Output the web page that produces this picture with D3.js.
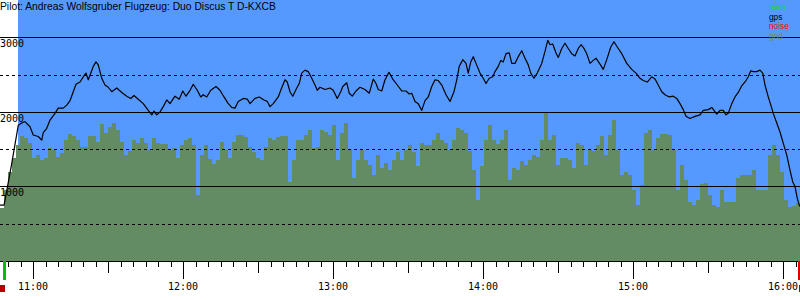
<!DOCTYPE html>
<html>
<head>
<meta charset="utf-8">
<script src="https://cdn.jsdelivr.net/npm/d3@7"></script>
<style>
  body { margin: 0; background: #fff; }
  svg { display: block; }
</style>
</head>
<body>
<div id="chart"></div>
<script>
var title = 'Pilot: Andreas Wolfsgruber Flugzeug: Duo Discus T D-KXCB';
var legendNames = ['baro', 'gps', 'noise', 'gnd'];

var viewStart = '10:46:48';
var viewEnd = '16:06:48';
var flightStart = '10:54:00';
var takeoff = '10:48:30';
var landing = '16:06:24';
var noiseMarks = ['10:46:48', '16:06:24'];

var altTicks = [500, 1000, 1500, 2000, 2500, 3000];

// gps altitude [time, m]
var gpsTrack = [
  ['10:46:48',750],['10:48:24',750],['10:48:36',780],['10:51:24',1290],['10:54:06',1820],
  ['10:55:30',1850],['10:56:48',1870],['10:58:48',1800],['11:00:06',1690],['11:02:06',1670],
  ['11:03:30',1620],['11:04:06',1720],['11:05:30',1780],['11:06:48',1890],['11:08:48',1980],
  ['11:10:06',2050],['11:12:06',2050],['11:13:30',2090],['11:14:48',2150],['11:16:06',2270],
  ['11:17:12',2370],['11:18:48',2400],['11:20:06',2470],['11:21:12',2520],['11:22:06',2430],
  ['11:22:48',2490],['11:24:06',2610],['11:25:12',2670],['11:26:06',2630],['11:27:30',2450],
  ['11:28:48',2360],['11:30:06',2330],['11:31:30',2270],['11:33:30',2320],['11:35:30',2260],
  ['11:37:30',2210],['11:39:06',2180],['11:40:24',2220],['11:42:06',2170],['11:44:06',2110],
  ['11:46:06',2020],['11:47:30',1960],['11:48:24',2010],['11:49:30',1960],['11:50:48',2000],
  ['11:52:06',2070],['11:53:30',2160],['11:54:48',2110],['11:56:48',2210],['11:58:30',2170],
  ['11:59:54',2280],['12:01:12',2210],['12:02:30',2270],['12:04:06',2370],['12:05:42',2290],
  ['12:07:06',2200],['12:08:06',2230],['12:09:30',2200],['12:11:06',2290],['12:13:12',2340],
  ['12:14:48',2290],['12:16:24',2200],['12:18:06',2110],['12:19:30',2060],['12:20:48',2050],
  ['12:22:06',2140],['12:24:06',2180],['12:25:42',2170],['12:26:48',2110],['12:28:48',2180],
  ['12:30:30',2200],['12:32:24',2160],['12:33:42',2140],['12:34:48',2070],['12:36:06',2110],
  ['12:38:06',2200],['12:39:06',2290],['12:40:48',2430],['12:41:42',2400],['12:42:48',2270],
  ['12:43:54',2210],['12:45:30',2320],['12:46:30',2380],['12:47:30',2520],['12:48:48',2560],
  ['12:50:06',2540],['12:51:30',2450],['12:52:48',2360],['12:53:42',2290],['12:54:48',2330],
  ['12:56:48',2300],['12:58:48',2320],['13:00:06',2290],['13:01:42',2180],['13:03:06',2270],
  ['13:03:54',2340],['13:05:30',2390],['13:06:30',2250],['13:07:42',2210],['13:09:12',2280],
  ['13:10:48',2330],['13:12:48',2300],['13:14:30',2250],['13:16:06',2440],['13:17:12',2380],
  ['13:18:06',2300],['13:19:30',2280],['13:20:48',2430],['13:22:24',2530],['13:23:54',2440],
  ['13:25:42',2360],['13:27:30',2280],['13:29:12',2280],['13:30:30',2240],['13:31:30',2250],
  ['13:32:48',2140],['13:34:06',2110],['13:35:30',2020],['13:36:48',2150],['13:38:06',2200],
  ['13:39:30',2340],['13:40:48',2430],['13:42:06',2420],['13:43:30',2360],['13:45:12',2230],
  ['13:46:48',2140],['13:48:24',2270],['13:49:30',2430],['13:50:30',2610],['13:51:54',2700],
  ['13:53:12',2650],['13:54:06',2520],['13:55:06',2670],['13:56:06',2740],['13:57:12',2650],
  ['13:58:48',2520],['14:00:06',2450],['14:01:12',2380],['14:02:30',2450],['14:03:54',2470],
  ['14:04:48',2540],['14:06:06',2610],['14:07:06',2690],['14:08:06',2670],['14:09:12',2780],
  ['14:10:30',2790],['14:11:30',2650],['14:12:48',2650],['14:14:06',2740],['14:15:30',2820],
  ['14:16:48',2720],['14:18:06',2630],['14:19:06',2520],['14:20:24',2450],['14:21:42',2520],
  ['14:23:30',2650],['14:24:48',2810],['14:25:54',2960],['14:26:48',2900],['14:27:54',2910],
  ['14:29:12',2790],['14:30:06',2730],['14:31:30',2850],['14:32:48',2920],['14:34:06',2850],
  ['14:35:30',2780],['14:36:48',2750],['14:38:06',2850],['14:39:12',2900],['14:40:24',2850],
  ['14:41:30',2780],['14:42:48',2650],['14:44:06',2690],['14:45:12',2720],['14:46:48',2640],
  ['14:48:06',2570],['14:49:30',2700],['14:51:06',2870],['14:52:24',2940],['14:53:42',2870],
  ['14:55:30',2780],['14:57:30',2650],['14:59:30',2570],['15:01:12',2520],['15:02:48',2450],
  ['15:04:06',2420],['15:05:42',2400],['15:07:30',2470],['15:08:48',2440],['15:10:06',2360],
  ['15:11:30',2270],['15:12:48',2230],['15:14:30',2200],['15:16:06',2210],['15:17:30',2180],
  ['15:18:48',2110],['15:20:06',2030],['15:21:12',1940],['15:22:48',1910],['15:24:48',1940],
  ['15:26:48',1960],['15:28:06',2020],['15:30:06',2030],['15:31:30',2060],['15:32:24',2020],
  ['15:33:30',1970],['15:34:48',2020],['15:36:06',2020],['15:37:12',1960],['15:38:06',1980],
  ['15:39:30',2110],['15:40:48',2200],['15:42:06',2260],['15:43:30',2350],['15:45:12',2420],
  ['15:46:06',2470],['15:47:06',2550],['15:48:06',2540],['15:49:30',2540],['15:50:48',2560],
  ['15:51:54',2520],['15:52:48',2360],['15:54:06',2200],['15:55:30',2050],['15:56:06',1980],
  ['15:57:30',1850],['15:58:48',1730],['16:00:06',1580],['16:01:30',1420],['16:02:48',1220],
  ['16:03:54',1060],['16:04:48',1000],['16:05:42',840],['16:06:30',750],['16:06:48',730]
];

// ground elevation, one value every gndStep seconds from gndStart
var gndStart = '10:46:48';
var gndStep = 96;
var gndAlt = [
  710,950,1190,1380,1560,1680,1650,1580,1380,1420,1350,1380,1520,1490,1390,1450,1620,1700,1670,1620,
  1530,1530,1670,1670,1600,1840,1720,1800,1850,1760,1600,1420,1480,1620,1580,1650,1580,1490,1650,1580,
  1570,1570,1490,1520,1380,1560,1620,1650,1560,890,1420,1560,1370,1300,1350,1600,1490,1380,1600,1690,
  1690,1660,1530,1460,1380,1350,1530,1650,1620,1660,1680,1680,1060,1350,1620,1620,1690,1760,1520,1530,
  1760,1730,1690,1820,1350,1720,1850,1490,1110,1350,1490,1350,1290,1150,1420,1250,1310,1220,1350,1460,
  1350,1490,1560,1460,1270,1580,1560,1560,1620,1720,1620,1580,1490,1620,1790,1760,1720,1480,1220,820,
  1270,1620,1820,1620,1570,1620,1760,1090,1250,1220,1340,1290,1350,1420,1400,1620,2000,1620,1690,1290,
  1380,1380,1350,1250,1580,1560,1290,1490,1470,1560,1680,1420,1690,1890,1490,1150,1190,1150,950,750,
  1020,1720,1760,1490,1650,1700,1700,1690,1490,950,1290,1090,790,750,820,1030,1050,890,750,720,
  950,790,790,790,1110,1150,1150,1150,1220,950,950,950,1420,1560,1420,1190,820,720,740,780
];

var colors = {
  baro: '#11dd11',
  gps: '#000000',
  noise: '#ff0000',
  gnd: '#6b8f62',
  sky: '#5599ff',
  ground: '#638c63'
};

var w = 800, h = 300, base = 261;
var parseTime = d3.utcParse('%H:%M:%S');

var svg = d3.select('#chart').append('svg')
  .attr('width', w)
  .attr('height', h);

var x = d3.scaleUtc()
  .domain([parseTime(viewStart), parseTime(viewEnd)])
  .range([0, w]);

var y = d3.scaleLinear()
  .domain([0, 3500])
  .range([base, 0]);

svg.append('rect')
  .attr('width', w).attr('height', h)
  .attr('fill', '#fff');

// flight background
svg.append('rect')
  .attr('x', x(parseTime(flightStart)))
  .attr('y', 0)
  .attr('width', w - x(parseTime(flightStart)))
  .attr('height', base)
  .attr('fill', colors.sky);

// ground profile
var t0 = parseTime(gndStart).getTime();
var gnd = gndAlt.map(function(a, i) {
  return { t: new Date(t0 + i * gndStep * 1000), a: a };
});
gnd.push({ t: new Date(t0 + gndAlt.length * gndStep * 1000), a: gndAlt[gndAlt.length - 1] });

svg.append('path')
  .datum(gnd)
  .attr('fill', colors.ground)
  .attr('shape-rendering', 'crispEdges')
  .attr('d', d3.area()
    .curve(d3.curveStepAfter)
    .x(function(d) { return x(d.t); })
    .y0(y(0))
    .y1(function(d) { return y(d.a); }));

// altitude grid
svg.selectAll('.grid')
  .data(altTicks)
  .enter().append('line')
  .attr('class', 'grid')
  .attr('x1', 0).attr('x2', w)
  .attr('y1', function(d) { return Math.round(y(d)) + 0.5; })
  .attr('y2', function(d) { return Math.round(y(d)) + 0.5; })
  .attr('stroke', '#000')
  .attr('stroke-width', 1)
  .attr('stroke-dasharray', function(d) { return d % 1000 ? '3,3' : null; });

svg.selectAll('.alt-label')
  .data(altTicks.filter(function(d) { return d % 1000 === 0; }))
  .enter().append('text')
  .attr('class', 'alt-label')
  .attr('x', 0)
  .attr('y', function(d) { return Math.round(y(d)) + 10; })
  .style('font', '10px "DejaVu Sans Mono", monospace')
  .text(function(d) { return d; });

// gps line
svg.append('path')
  .datum(gpsTrack)
  .attr('fill', 'none')
  .attr('stroke', colors.gps)
  .attr('stroke-width', 1.2)
  .attr('stroke-linejoin', 'round')
  .attr('d', d3.line()
    .x(function(d) { return x(parseTime(d[0])); })
    .y(function(d) { return y(d[1]); }));

// time axis
svg.append('line')
  .attr('x1', 0).attr('x2', w)
  .attr('y1', base + 0.5).attr('y2', base + 0.5)
  .attr('stroke', '#000');

var ticks = x.ticks(d3.utcMinute.every(5));
svg.selectAll('.tick')
  .data(ticks)
  .enter().append('line')
  .attr('class', 'tick')
  .attr('x1', function(d) { return Math.round(x(d)) + 0.5; })
  .attr('x2', function(d) { return Math.round(x(d)) + 0.5; })
  .attr('y1', base)
  .attr('y2', function(d) {
    var m = d.getUTCMinutes();
    return base + (m === 0 ? 18 : m === 30 ? 12 : 6);
  })
  .attr('stroke', '#000');

svg.selectAll('.time-label')
  .data(x.ticks(d3.utcHour.every(1)))
  .enter().append('text')
  .attr('class', 'time-label')
  .attr('x', function(d) { return x(d); })
  .attr('y', 290)
  .attr('text-anchor', 'middle')
  .style('font', '10px "DejaVu Sans Mono", monospace')
  .text(d3.utcFormat('%H:%M'));

// takeoff / landing markers
svg.append('rect')
  .attr('x', Math.round(x(parseTime(takeoff))) - 1)
  .attr('y', base)
  .attr('width', 3).attr('height', 19)
  .attr('fill', '#00c000');

svg.append('rect')
  .attr('x', Math.round(x(parseTime(landing))) - 1)
  .attr('y', base)
  .attr('width', 3).attr('height', 19)
  .attr('fill', '#e00000');

svg.selectAll('.noise')
  .data(noiseMarks)
  .enter().append('rect')
  .attr('class', 'noise')
  .attr('x', function(d) { return Math.round(x(parseTime(d))); })
  .attr('y', 285)
  .attr('width', 5).attr('height', 7)
  .attr('fill', '#b00000');

// title + legend
svg.append('text')
  .attr('x', 0).attr('y', 10)
  .style('font', '10.3px "Liberation Sans", Arial, sans-serif')
  .text(title);

svg.selectAll('.legend')
  .data(legendNames)
  .enter().append('text')
  .attr('class', 'legend')
  .attr('x', 769)
  .attr('y', function(d, i) { return 10 + i * 9.6; })
  .attr('fill', function(d) { return colors[d]; })
  .style('font', '8.3px "Liberation Sans", Arial, sans-serif')
  .text(function(d) { return d; });
</script>
</body>
</html>
